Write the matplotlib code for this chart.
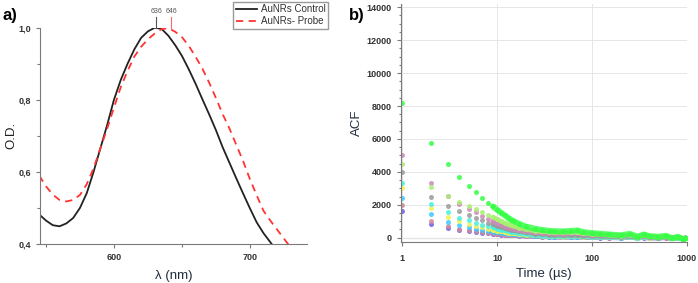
import numpy as np
import matplotlib
matplotlib.use("Agg")
import matplotlib.pyplot as plt
from matplotlib.ticker import FixedLocator, MultipleLocator

plt.rcParams['font.family'] = ['Liberation Sans', 'DejaVu Sans']

# ---- panel a: absorbance spectra ----
wl = [545, 550, 555, 560, 565, 570, 575, 580, 585, 590, 595, 600, 605, 610, 615,
      620, 625, 630, 635, 640, 645, 650, 655, 660, 665, 670, 675, 680, 685, 690,
      695, 700, 705, 710, 715, 720, 725, 730]
od_control = [0.482, 0.465, 0.452, 0.449, 0.457, 0.472, 0.500, 0.541, 0.600, 0.665,
              0.730, 0.800, 0.855, 0.900, 0.940, 0.972, 0.990, 1.000, 0.997, 0.978,
              0.952, 0.922, 0.885, 0.845, 0.802, 0.760, 0.716, 0.668, 0.625, 0.582,
              0.540, 0.499, 0.460, 0.430, 0.405, 0.380, 0.355, 0.330]
od_probe = [0.590, 0.560, 0.537, 0.522, 0.518, 0.522, 0.536, 0.566, 0.610, 0.665,
            0.720, 0.778, 0.835, 0.880, 0.920, 0.947, 0.968, 0.984, 0.996, 0.999,
            0.989, 0.974, 0.950, 0.920, 0.887, 0.848, 0.805, 0.760, 0.720, 0.675,
            0.630, 0.580, 0.535, 0.492, 0.465, 0.440, 0.415, 0.390]
peak_labels = ['636', '646']
peak_pos = [631, 642]

# ---- panel b: autocorrelation ----
time_us = [1, 2, 3, 4, 5, 6, 7, 8, 9, 10, 11, 12, 13, 14, 15, 17, 20, 25, 30, 35,
           40, 50, 60, 70, 80, 100, 120, 150, 200, 250, 300, 350, 400, 500, 600,
           700, 800, 900, 1000]
acf_blue = [1600, 860, 600, 490, 410, 350, 300, 270, 240, 210, 190, 170, 160, 150, 140,
            120, 100, 80, 60, 50, 40, 30, 40, 40, 30, 20, 10, 0, -10, 20, -20, 10, -10,
            -20, 0, -40, -10, -50, -30]
acf_rose = [2000, 1030, 710, 550, 450, 380, 330, 290, 260, 230, 210, 190, 170, 160, 150,
            130, 110, 90, 70, 60, 50, 40, 50, 50, 40, 30, 20, 10, 0, 30, -10, 20, 0,
            -20, 10, -40, -10, -50, -30]
acf_sky = [2400, 1420, 980, 750, 650, 550, 480, 420, 370, 330, 290, 260, 240, 220, 200,
           170, 140, 110, 90, 70, 60, 50, 60, 60, 50, 40, 30, 20, 10, 40, -10, 30, 0,
           -10, 20, -30, 0, -40, -20]
acf_yellow = [3000, 1780, 1280, 1000, 830, 720, 630, 550, 480, 420, 380, 340, 310, 280, 260,
              220, 180, 140, 110, 90, 80, 70, 80, 80, 70, 50, 40, 30, 20, 50, 0, 40, 10,
              -10, 20, -30, 0, -40, -20]
acf_cyan = [3300, 2050, 1540, 1220, 1060, 920, 800, 700, 620, 550, 490, 440, 400, 360, 330,
            280, 220, 160, 120, 100, 90, 80, 90, 90, 80, 60, 50, 40, 30, 60, 0, 50, 20,
            0, 30, -30, 10, -40, -20]
acf_gray = [4000, 2500, 1950, 1620, 1380, 1200, 1050, 920, 820, 720, 650, 580, 520, 480, 440,
            380, 320, 250, 210, 180, 160, 140, 150, 150, 130, 110, 100, 80, 60, 100, 20, 90,
            40, 10, 50, -20, 20, -50, -10]
acf_pink = [5000, 3300, 2550, 2050, 1750, 1550, 1320, 1150, 1000, 900, 800, 720, 650, 590,
            540, 460, 390, 320, 290, 270, 260, 250, 270, 270, 230, 190, 170, 140, 110, 150,
            40, 120, 60, 30, 70, -10, 30, -50, -20]
acf_lime = [4500, 3100, 2550, 2150, 1930, 1720, 1550, 1400, 1250, 1120, 1000, 900, 820, 750,
            690, 600, 500, 420, 380, 350, 330, 320, 330, 320, 280, 230, 200, 170, 130, 180,
            50, 150, 80, 40, 90, -20, 40, -60, -30]
acf_green = [8200, 5750, 4500, 3700, 3150, 2750, 2400, 2100, 1900, 1700, 1520, 1360, 1220,
             1100, 1000, 850, 680, 550, 470, 420, 400, 380, 420, 440, 350, 280, 250, 200, 150,
             240, 60, 200, 100, 60, 120, -40, 60, -80, -40]

series = [(acf_blue, '#6f5fe0'), (acf_rose, '#d08a9a'), (acf_sky, '#3fc8ff'),
          (acf_yellow, '#f2f24a'), (acf_cyan, '#45f0e0'), (acf_gray, '#9a9a9a'),
          (acf_pink, '#cc8ab8'), (acf_lime, '#a8f070'), (acf_green, '#33ff44')]

fig = plt.figure(figsize=(6.98, 2.83), dpi=100)

spine_c = '#7a7a7a'
tick_c = '#333333'

# panel a
ax1 = fig.add_axes([0.0573, 0.138, 0.3825, 0.764])
ax1.plot(wl, od_control, color='#222222', lw=1.3, label='AuNRs Control')
ax1.plot(wl, od_probe, color='#ff3333', lw=1.3, ls=(0, (4, 3)), label='AuNRs- Probe')
ax1.set_xlim(545.6, 742)
ax1.set_ylim(0.4, 1.0)
ax1.set_yticks([0.4, 0.6, 0.8, 1.0])
ax1.set_yticklabels(['0,4', '0,6', '0,8', '1,0'])
ax1.yaxis.set_minor_locator(FixedLocator([0.5, 0.7, 0.9]))
ax1.set_xticks([600, 700])
ax1.xaxis.set_minor_locator(FixedLocator([550, 650]))
for s in ['top', 'right']:
    ax1.spines[s].set_visible(False)
for s in ['left', 'bottom']:
    ax1.spines[s].set_color(spine_c)
    ax1.spines[s].set_linewidth(0.8)
ax1.tick_params(which='both', colors=spine_c, labelcolor=tick_c, labelsize=6.5, width=0.8)
ax1.tick_params(which='major', length=3)
ax1.tick_params(which='minor', length=2)
for lab in ax1.get_xticklabels() + ax1.get_yticklabels():
    lab.set_fontweight('bold')
ax1.set_ylabel('O.D.', fontsize=9.5, color='#222222', labelpad=1)
ax1.set_xlabel('λ (nm)', fontsize=9.5, color='#1f2d3d', labelpad=6)
for txt, xp, c in zip(peak_labels, peak_pos, ['#555555', '#ff6666']):
    ax1.plot([xp, xp], [1.0, 1.03], color=c, lw=0.8, clip_on=False)
    ax1.text(xp, 1.035, txt, fontsize=5, color='#555555', ha='center', va='bottom')
ax1.legend(loc='upper right', bbox_to_anchor=(328 / 698, 1 - 1.7 / 283),
           bbox_transform=fig.transFigure, borderaxespad=0, fontsize=7,
           handlelength=2.2, handletextpad=0.4, borderpad=0.25, labelspacing=0.2,
           fancybox=False, edgecolor='#999999', framealpha=1, labelcolor='#333333')
fig.text(0.004, 0.945, 'a)', fontsize=12, fontweight='bold', va='center')

# panel b
ax2 = fig.add_axes([0.5745, 0.145, 0.4097, 0.841])
ax2.set_xscale('log')
t = np.array(time_us)
for vals, col in series:
    v = np.array(vals)
    ax2.plot(t[8:], v[8:], '-', color=col, lw=3.4 if col != '#33ff44' else 4.2, alpha=0.8,
             solid_capstyle='round')
    ax2.plot(t, v, 'o', color=col, ms=3.6, mec='none', alpha=0.85)
ax2.set_xlim(0.97, 1000)
ax2.set_ylim(-260, 14200)
ax2.set_xticks([1, 10, 100, 1000])
ax2.set_xticklabels(['1', '10', '100', '1000'])
ax2.xaxis.set_minor_locator(FixedLocator([]))
ax2.set_yticks(np.arange(0, 14001, 2000))
ax2.yaxis.set_minor_locator(MultipleLocator(500))
ax2.grid(True, which='major', color='#e6e6e6', lw=0.7)
ax2.axhline(0, color='#aaaaaa', lw=0.8, zorder=0)
ax2.set_axisbelow(True)
for s in ['top', 'right']:
    ax2.spines[s].set_visible(False)
for s in ['left', 'bottom']:
    ax2.spines[s].set_color(spine_c)
    ax2.spines[s].set_linewidth(0.8)
ax2.tick_params(which='both', colors=spine_c, labelcolor=tick_c, labelsize=6.5, width=0.8)
ax2.tick_params(which='major', length=3)
ax2.tick_params(which='minor', length=1.5)
ax2.tick_params(axis='x', pad=6)
for lab in ax2.get_xticklabels() + ax2.get_yticklabels():
    lab.set_fontweight('bold')
ax2.set_ylabel('ACF', fontsize=9.5, color='#1f2d3d', labelpad=3)
ax2.set_xlabel('Time (µs)', fontsize=9.5, color='#1f2d3d', labelpad=3)
fig.text(0.500, 0.945, 'b)', fontsize=12, fontweight='bold', va='center')

fig.savefig('out.png', dpi=100)
